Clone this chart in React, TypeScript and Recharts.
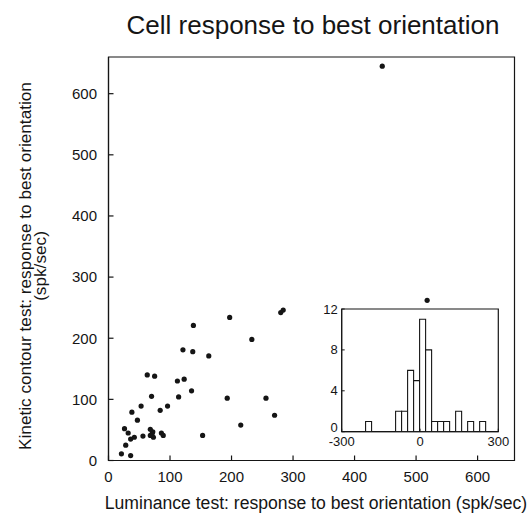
import React from 'react';
import { ScatterChart, Scatter, XAxis, YAxis, ReferenceArea, BarChart, Bar } from 'recharts';

// Main scatter: luminance test (x) vs kinetic contour test (y), spk/sec
const luminance = [21, 36, 28, 26, 32, 36, 42, 38, 47, 53, 56, 63, 75, 70, 68, 72, 68, 73, 71, 84, 86, 89, 96, 112, 123, 114, 135, 121, 137, 138, 163, 153, 197, 193, 215, 233, 256, 270, 280, 284, 445, 518];
const kinetic = [11, 8, 25, 52, 45, 35, 38, 79, 66, 89, 40, 140, 138, 105, 51, 47, 41, 38, 44, 82, 45, 41, 89, 130, 133, 104, 114, 181, 178, 221, 171, 41, 234, 102, 58, 198, 102, 74, 242, 246, 645, 262];
const mainTicks = [0, 100, 200, 300, 400, 500, 600];

// Inset histogram
const binCenters = [-197, -82, -59, -36, -13, 10, 33, 56, 79, 102, 148, 194, 240];
const binCounts = [1, 2, 2, 6, 5, 11, 8, 1, 1, 1, 2, 1, 1];
const insetXTicks = [-300, 0, 300];
const insetYTicks = [0, 4, 8, 12];

const TITLE = 'Cell response to best orientation';
const XLABEL = 'Luminance test: response to best orientation (spk/sec)';
const YLABEL1 = 'Kinetic contour test: response to best orientation';
const YLABEL2 = '(spk/sec)';

const FONT = '"Liberation Sans", Arial, Helvetica, sans-serif';
const INK = '#151515';

const Dot = (props: any) => <circle cx={props.cx} cy={props.cy} r={2.6} fill={INK} />;

const InsetYTick = (props: any) => {
  const { x, y, payload } = props;
  const lift = payload.value === 0 ? -4 : 0;
  return (
    <text x={x} y={y + lift} dy="0.35em" textAnchor="end" fontSize={13} fontFamily={FONT} fill={INK}>
      {payload.value}
    </text>
  );
};

export default function App() {
  const points = luminance.map((x, i) => ({ x, y: kinetic[i] }));
  const hist = binCenters.map((c, i) => ({ bin: c, count: binCounts[i] }));
  const tickStyle = { fill: INK, fontSize: 15, fontFamily: FONT };
  const insetTick = { fill: INK, fontSize: 13, fontFamily: FONT };
  return (
    <div style={{ position: 'absolute', left: 0, top: 0, width: 529, height: 516, background: '#fff' }}>
      <ScatterChart width={529} height={516} margin={{ top: 57, right: 14.5, bottom: 15.5, left: 48.5 }}>
        <XAxis
          type="number"
          dataKey="x"
          domain={[0, 660]}
          ticks={mainTicks}
          interval={0}
          tickSize={-5}
          tickMargin={15.5}
          height={40}
          stroke={INK}
          strokeWidth={1.2}
          tick={tickStyle}
          allowDataOverflow
        />
        <YAxis
          type="number"
          dataKey="y"
          domain={[0, 660]}
          ticks={mainTicks}
          interval={0}
          tickSize={-5}
          tickMargin={16.5}
          width={60}
          stroke={INK}
          strokeWidth={1.2}
          tick={tickStyle}
          allowDataOverflow
        />
        <ReferenceArea x1={0} x2={660} y1={0} y2={660} fill="none" fillOpacity={0} stroke={INK} strokeWidth={1.2} />
        <Scatter data={points} isAnimationActive={false} shape={Dot} />
      </ScatterChart>

      <div style={{ position: 'absolute', left: 341.7, top: 309, width: 156.6, height: 122.7, background: '#fff' }} />
      <div style={{ position: 'absolute', left: 300, top: 290 }}>
        <BarChart width={215} height={170} data={hist} margin={{ top: 19, right: 16.7, bottom: 8.3, left: 11.7 }}>
          <XAxis
            type="number"
            dataKey="bin"
            domain={[-300, 300]}
            ticks={insetXTicks}
            interval={0}
            tickSize={-3}
            tickMargin={8.5}
            height={20}
            stroke={INK}
            tick={insetTick}
            allowDataOverflow
          />
          <YAxis
            type="number"
            domain={[0, 12]}
            ticks={insetYTicks}
            interval={0}
            tickSize={-3}
            tickMargin={7}
            width={30}
            stroke={INK}
            tick={<InsetYTick />}
            allowDataOverflow
          />
          <ReferenceArea x1={-300} x2={300} y1={0} y2={12} fill="none" fillOpacity={0} stroke={INK} strokeWidth={1.2} />
          <Bar dataKey="count" barSize={6} fill="#fff" stroke={INK} strokeWidth={1.1} isAnimationActive={false} />
        </BarChart>
      </div>

      <svg width={529} height={516} style={{ position: 'absolute', left: 0, top: 0, pointerEvents: 'none' }}>
        <text x={313} y={34} textAnchor="middle" fontSize={26} fontFamily={FONT} fill={INK}>{TITLE}</text>
        <text x={316} y={509} textAnchor="middle" fontSize={17.6} fontFamily={FONT} fill={INK}>{XLABEL}</text>
        <text transform="rotate(-90)" x={-266} y={31} textAnchor="middle" fontSize={17.2} fontFamily={FONT} fill={INK}>{YLABEL1}</text>
        <text transform="rotate(-90)" x={-266} y={46} textAnchor="middle" fontSize={17.2} fontFamily={FONT} fill={INK}>{YLABEL2}</text>
      </svg>
    </div>
  );
}
